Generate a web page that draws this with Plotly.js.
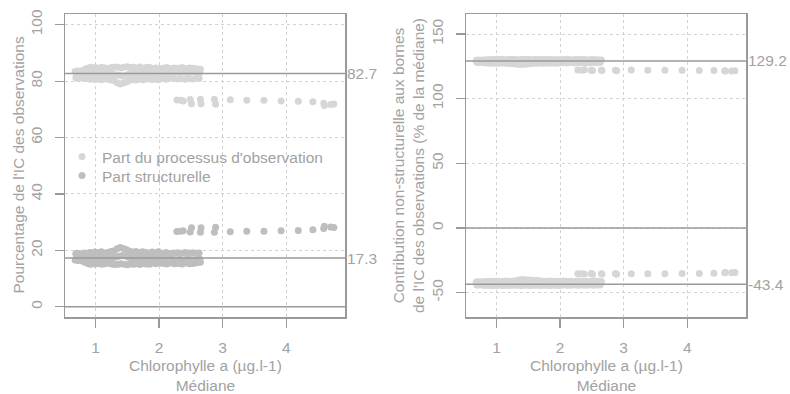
<!DOCTYPE html>
<html>
<head>
<meta charset="utf-8">
<script src="https://cdn.plot.ly/plotly-3.0.1.min.js"></script>
<style>
  html, body { margin: 0; padding: 0; background: #ffffff; }
  #graph { width: 790px; height: 394px; }
</style>
</head>
<body>
<div id="graph"></div>
<script>
// Médiane de la chlorophylle a (µg.l-1) pour chaque observation
const mediane = [
  0.68, 0.70, 0.69,  0.72, 0.74, 0.71,  0.76, 0.78, 0.75,  0.80, 0.82, 0.79,
  0.84, 0.86, 0.83,  0.88, 0.90, 0.87,  0.92, 0.94, 0.91,  0.96, 0.98, 0.95,
  1.00, 1.02, 0.99,  1.05, 1.07, 1.04,  1.10, 1.12, 1.09,  1.15, 1.17, 1.14,
  1.20, 1.22, 1.19,  1.25, 1.27, 1.24,  1.30, 1.32, 1.29,  1.35, 1.37, 1.34,
  1.40, 1.42, 1.39,  1.45, 1.47, 1.44,  1.50, 1.52, 1.49,  1.55, 1.57, 1.54,
  1.60, 1.62, 1.59,  1.65, 1.67, 1.64,  1.70, 1.72, 1.69,  1.75, 1.77, 1.74,
  1.80, 1.82, 1.79,  1.85, 1.87, 1.84,  1.90, 1.92, 1.89,  1.95, 1.97, 1.94,
  2.00, 2.02, 1.99,  2.06, 2.08, 2.05,  2.12, 2.14, 2.11,  2.18, 2.20, 2.17,
  2.24, 2.26, 2.23,  2.30, 2.32, 2.29,  2.36, 2.38, 2.35,  2.42, 2.44, 2.41,
  2.48, 2.50, 2.47,  2.54, 2.56, 2.53,  2.60, 2.62, 2.59,  2.65, 2.64, 2.63,
  2.28, 2.34, 2.38, 2.49, 2.51, 2.65, 2.66, 2.87, 2.89, 3.12,
  3.38, 3.65, 3.92, 4.19, 4.42, 4.59, 4.60, 4.70, 4.75
];

// Part du processus d'observation dans l'IC (%)
const partObservation = [
  83.4, 82.2, 81.2,  83.6, 82.4, 81.0,  83.5, 82.0, 81.3,  83.8, 82.6, 81.1,
  84.3, 82.3, 80.9,  84.6, 82.9, 81.2,  84.9, 82.7, 80.7,  84.7, 82.5, 80.9,
  84.8, 83.0, 80.6,  84.6, 82.6, 80.8,  84.9, 82.8, 80.5,  84.7, 82.4, 80.9,
  84.5, 82.9, 80.7,  84.8, 82.6, 80.4,  85.0, 82.3, 80.2,  84.9, 82.1, 79.4,
  84.7, 81.8, 79.0,  84.9, 82.0, 79.3,  85.1, 82.4, 79.8,  84.8, 82.7, 80.3,
  84.9, 82.5, 80.6,  84.7, 82.9, 80.4,  85.0, 82.6, 80.8,  84.6, 82.8, 80.5,
  84.8, 82.4, 80.7,  84.9, 82.7, 80.9,  84.5, 82.9, 80.6,  84.7, 82.5, 80.8,
  84.4, 82.8, 80.5,  84.6, 83.0, 81.0,  84.8, 83.2, 80.7,  84.5, 82.9, 81.1,
  84.7, 83.3, 80.9,  84.6, 83.1, 80.8,  84.8, 83.4, 81.0,  84.5, 83.0, 80.7,
  84.7, 83.2, 80.9,  84.6, 83.3, 80.8,  84.4, 83.0, 81.0,  84.2, 83.1, 80.9,
  73.3, 73.2, 73.0, 73.5, 72.0, 73.6, 72.0, 73.6, 71.8, 73.4,
  73.2, 73.2, 73.0, 72.9, 72.7, 72.2, 71.4, 71.7, 71.9
];

// Part structurelle dans l'IC (%)
const partStructurelle = [
  16.6, 17.8, 18.8,  16.4, 17.6, 19.0,  16.5, 18.0, 18.7,  16.2, 17.4, 18.9,
  15.7, 17.7, 19.1,  15.4, 17.1, 18.8,  15.1, 17.3, 19.3,  15.3, 17.5, 19.1,
  15.2, 17.0, 19.4,  15.4, 17.4, 19.2,  15.1, 17.2, 19.5,  15.3, 17.6, 19.1,
  15.5, 17.1, 19.3,  15.2, 17.4, 19.6,  15.0, 17.7, 19.8,  15.1, 17.9, 20.6,
  15.3, 18.2, 21.0,  15.1, 18.0, 20.7,  14.9, 17.6, 20.2,  15.2, 17.3, 19.7,
  15.1, 17.5, 19.4,  15.3, 17.1, 19.6,  15.0, 17.4, 19.2,  15.4, 17.2, 19.5,
  15.2, 17.6, 19.3,  15.1, 17.3, 19.1,  15.5, 17.1, 19.4,  15.3, 17.5, 19.2,
  15.6, 17.2, 19.5,  15.4, 17.0, 19.0,  15.2, 16.8, 19.3,  15.5, 17.1, 18.9,
  15.3, 16.7, 19.1,  15.4, 16.9, 19.2,  15.2, 16.6, 19.0,  15.5, 17.0, 19.3,
  15.3, 16.8, 19.1,  15.4, 16.7, 19.2,  15.6, 17.0, 19.0,  15.8, 16.9, 19.1,
  26.7, 26.8, 27.0, 26.5, 28.0, 26.4, 28.0, 26.4, 28.2, 26.6,
  26.8, 26.8, 27.0, 27.1, 27.3, 27.8, 28.6, 28.3, 28.1
];

// Contribution non-structurelle à la borne haute (% de la médiane)
const contribHaute = [
  129.8, 128.9, 128.1,  129.9, 129.0, 128.0,  129.7, 128.8, 128.2,  130.0, 129.1, 127.9,
  130.1, 128.9, 127.7,  130.2, 129.0, 127.6,  130.4, 128.8, 127.5,  130.3, 129.1, 127.6,
  130.5, 128.9, 127.4,  130.3, 129.0, 127.5,  130.4, 128.7, 127.6,  130.2, 129.1, 127.4,
  130.5, 128.9, 127.3,  130.3, 128.8, 127.2,  130.4, 128.6, 126.9,  130.2, 128.5, 126.6,
  130.3, 128.4, 126.4,  130.5, 128.6, 126.6,  130.4, 128.8, 126.9,  130.2, 129.0, 127.3,
  130.5, 128.9, 127.5,  130.3, 129.1, 127.4,  130.4, 128.8, 127.6,  130.2, 129.0, 127.5,
  130.5, 128.9, 127.7,  130.3, 129.1, 127.5,  130.1, 128.8, 127.6,  130.4, 129.0, 127.4,
  130.2, 128.9, 127.7,  130.3, 129.2, 127.8,  130.5, 129.0, 127.6,  130.2, 129.3, 127.9,
  130.4, 129.1, 127.7,  130.3, 129.2, 127.8,  130.5, 129.0, 127.9,  130.2, 129.3, 127.7,
  130.4, 129.1, 127.8,  130.3, 129.2, 127.9,  130.1, 129.0, 127.8,  129.9, 129.1, 127.9,
  122.2, 122.1, 122.3, 122.0, 121.8, 122.1, 121.9, 122.0, 121.7, 122.2,
  122.1, 122.0, 122.0, 121.9, 121.8, 121.6, 121.4, 121.5, 121.6
];

// Contribution non-structurelle à la borne basse (% de la médiane)
const contribBasse = [
  -41.8, -42.9, -44.0,  -41.6, -43.0, -44.1,  -41.7, -42.8, -43.9,  -41.5, -43.1, -44.2,
  -41.4, -42.9, -44.3,  -41.3, -43.0, -44.2,  -41.2, -42.7, -44.4,  -41.3, -42.9, -44.3,
  -41.1, -43.0, -44.5,  -41.3, -42.8, -44.3,  -41.2, -43.1, -44.4,  -41.0, -42.9, -44.2,
  -41.2, -42.7, -44.4,  -41.1, -42.8, -44.3,  -40.8, -42.6, -44.2,  -40.2, -42.4, -44.3,
  -39.8, -42.3, -44.4,  -39.9, -42.5, -44.2,  -40.1, -42.6, -44.3,  -40.3, -42.7, -44.4,
  -40.5, -42.8, -44.2,  -40.6, -42.6, -44.3,  -40.9, -42.9, -44.4,  -41.1, -42.7, -44.2,
  -41.2, -42.9, -44.3,  -41.0, -42.8, -44.4,  -41.3, -43.0, -44.2,  -41.1, -42.8, -44.3,
  -41.2, -42.9, -44.4,  -41.0, -42.7, -44.1,  -41.2, -42.9, -44.3,  -41.1, -42.6, -44.2,
  -41.3, -42.8, -44.0,  -41.0, -42.7, -44.2,  -41.2, -42.9, -44.1,  -41.1, -42.6, -44.3,
  -41.3, -42.8, -44.0,  -41.0, -42.7, -44.2,  -41.2, -42.9, -44.1,  -41.4, -42.8, -44.0,
  -35.4, -35.3, -35.5, -35.2, -35.8, -35.3, -35.6, -35.2, -35.7, -35.4,
  -35.3, -35.3, -35.2, -35.1, -35.0, -34.6, -34.3, -34.5, -34.4
];

// Valeurs moyennes tracées en lignes de référence
const moyennesGauche = [82.7, 17.3];
const moyennesDroite = [129.2, -43.4];

// Graduations
const xTicks = [1, 2, 3, 4];
const yTicksGauche = [0, 20, 40, 60, 80, 100];
const yTicksDroite = [-50, 0, 50, 100, 150];

const FONT = 'Liberation Sans, Arial, Helvetica, sans-serif';
const TAILLE = 15.5;
const TXT = '#a2a2a2';
const AXE = '#9a9a9a';
const GRILLE = '#d2d2d2';
const CLAIR = '#d6d6d6';
const FONCE = '#bebebe';

function axeX(domain, anchor) {
  return {
    domain: domain, anchor: anchor, range: [0.52, 4.925],
    tickvals: xTicks, ticktext: xTicks.map(String),
    ticks: 'outside', ticklen: 9, tickwidth: 1.3, tickcolor: AXE,
    showline: true, linecolor: AXE, linewidth: 1.5, mirror: true,
    showgrid: true, gridcolor: GRILLE, griddash: 'dot', gridwidth: 1,
    zeroline: false, ticklabelstandoff: 7,
    tickfont: { family: FONT, size: TAILLE, color: TXT }
  };
}
function axeY(range, ticks, anchor) {
  return {
    domain: [1 - 317 / 394, 1 - 14 / 394], anchor: anchor, range: range,
    tickvals: ticks, ticktext: ticks.map(String), tickangle: -90,
    ticks: 'outside', ticklen: 9, tickwidth: 1.3, tickcolor: AXE,
    showline: true, linecolor: AXE, linewidth: 1.5, mirror: true,
    showgrid: true, gridcolor: GRILLE, griddash: 'dot', gridwidth: 1,
    zeroline: false, ticklabelstandoff: 6,
    tickfont: { family: FONT, size: TAILLE, color: TXT }
  };
}

const marqueur = c => ({ color: c, size: 7, line: { width: 0 } });

const traces = [
  { x: mediane, y: partObservation, xaxis: 'x', yaxis: 'y', type: 'scatter', mode: 'markers',
    name: "Part du processus d'observation", legend: 'legend',
    marker: marqueur(CLAIR), hoverinfo: 'x+y' },
  { x: mediane, y: partStructurelle, xaxis: 'x', yaxis: 'y', type: 'scatter', mode: 'markers',
    name: 'Part structurelle', legend: 'legend2',
    marker: marqueur(FONCE), hoverinfo: 'x+y' },
  { x: mediane, y: contribHaute, xaxis: 'x2', yaxis: 'y2', type: 'scatter', mode: 'markers',
    showlegend: false, marker: marqueur(CLAIR), hoverinfo: 'x+y' },
  { x: mediane, y: contribBasse, xaxis: 'x2', yaxis: 'y2', type: 'scatter', mode: 'markers',
    showlegend: false, marker: marqueur(CLAIR), hoverinfo: 'x+y' }
];

// Lignes horizontales : zéro et moyennes
const ligne = (xr, yr, v) => ({
  type: 'line', xref: xr + ' domain', yref: yr, x0: 0, x1: 1, y0: v, y1: v,
  line: { color: AXE, width: 1.5 }, layer: 'above'
});
const shapes = [ligne('x', 'y', 0), ligne('x2', 'y2', 0)]
  .concat(moyennesGauche.map(v => ligne('x', 'y', v)))
  .concat(moyennesDroite.map(v => ligne('x2', 'y2', v)));

const etiquette = (xr, yr, v) => ({
  xref: xr + ' domain', yref: yr, x: 1, y: v, xanchor: 'left', yanchor: 'middle',
  xshift: 0, showarrow: false, text: String(v),
  font: { family: FONT, size: TAILLE, color: TXT }
});
const titre = (x, y, text, angle) => ({
  xref: 'paper', yref: 'paper', x: x, y: y, xanchor: 'center', yanchor: 'middle',
  showarrow: false, text: text, textangle: angle, borderpad: 0,
  font: { family: FONT, size: TAILLE, color: TXT }
});

const annotations = []
  .concat(moyennesGauche.map(v => etiquette('x', 'y', v)))
  .concat(moyennesDroite.map(v => etiquette('x2', 'y2', v)))
  .concat([
    titre(18 / 790, 1 - 165.5 / 394, "Pourcentage de l'IC des observations", -90),
    titre(408.5 / 790, 1 - 165.5 / 394,
      "Contribution non-structurelle aux bornes<br>de l'IC des observations (% de la médiane)", -90),
    titre(205 / 790, 1 - 375 / 394, 'Chlorophylle a (µg.l-1)<br>Médiane', 0),
    titre(606 / 790, 1 - 375 / 394, 'Chlorophylle a (µg.l-1)<br>Médiane', 0)
  ]);

const legende = top => ({
  x: 62 / 790, y: 1 - top / 394, xanchor: 'left', yanchor: 'top',
  bgcolor: 'rgba(0,0,0,0)', borderwidth: 0,
  font: { family: FONT, size: TAILLE, color: TXT }
});

const layout = {
  width: 790, height: 394,
  margin: { l: 0, r: 0, t: 0, b: 0 },
  paper_bgcolor: '#ffffff', plot_bgcolor: '#ffffff',
  showlegend: true,
  legend: legende(140),
  legend2: legende(159),
  xaxis: axeX([65 / 790, 345 / 790], 'y'),
  yaxis: axeY([-3.6, 103.8], yTicksGauche, 'x'),
  xaxis2: axeX([466 / 790, 746 / 790], 'y2'),
  yaxis2: axeY([-68.8, 165.5], yTicksDroite, 'x2'),
  shapes: shapes,
  annotations: annotations
};

Plotly.newPlot('graph', traces, layout, { displayModeBar: false, staticPlot: true });
</script>
</body>
</html>
